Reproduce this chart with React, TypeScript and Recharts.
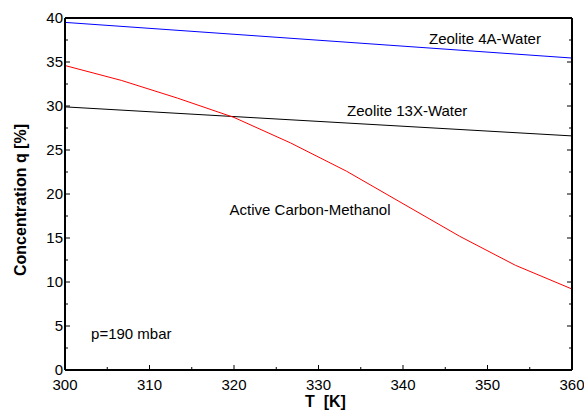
import { LineChart, Line, XAxis, YAxis, ReferenceDot, Label } from 'recharts';

// temperatures [K] and loadings [%]
const redT = [300, 306.7, 313.3, 320, 326.7, 333.3, 340, 346.7, 353.3, 360];
const carbonMethanol = [34.6, 32.9, 30.9, 28.7, 25.8, 22.6, 18.9, 15.2, 11.9, 9.2];
const zeoliteT = [300, 360];
const zeolite4A = [39.5, 35.45];
const zeolite13X = [29.9, 26.6];

const xTicks = [300, 305, 310, 315, 320, 325, 330, 335, 340, 345, 350, 355, 360];
const yTicks = [0, 2.5, 5, 7.5, 10, 12.5, 15, 17.5, 20, 22.5, 25, 27.5, 30, 32.5, 35, 37.5, 40];

const notes = [
  { T: 349.7, q: 37.6, text: 'Zeolite 4A-Water' },
  { T: 340.5, q: 29.5, text: 'Zeolite 13X-Water' },
  { T: 329.0, q: 18.2, text: 'Active Carbon-Methanol' },
  { T: 307.85, q: 4.1, text: 'p=190 mbar' },
];

const toRows = (xs: number[], ys: number[]) => xs.map((T, i) => ({ T, q: ys[i] }));

const FONT = '"Liberation Sans", Arial, sans-serif';
const MAJOR = 5;
const MINOR = 3;

function BottomTick(props: any) {
  const { x, y, payload } = props;
  const major = payload.value % 10 === 0;
  return (
    <g>
      <line x1={x} x2={x} y1={y} y2={y - (major ? MAJOR : MINOR)} stroke="#000" />
      {major && (
        <text x={x} y={y + 20} textAnchor="middle" fontSize={15} fill="#000" fontFamily={FONT}>
          {payload.value}
        </text>
      )}
    </g>
  );
}

function TopTick(props: any) {
  const { x, y, payload } = props;
  const major = payload.value % 10 === 0;
  return <line x1={x} x2={x} y1={y} y2={y + (major ? MAJOR : MINOR)} stroke="#000" />;
}

function LeftTick(props: any) {
  const { x, y, payload } = props;
  const major = payload.value % 5 === 0;
  return (
    <g>
      <line x1={x} x2={x + (major ? MAJOR : MINOR)} y1={y} y2={y} stroke="#000" />
      {major && (
        <text x={x - 2} y={y} dy="0.35em" textAnchor="end" fontSize={15} fill="#000" fontFamily={FONT}>
          {payload.value}
        </text>
      )}
    </g>
  );
}

function RightTick(props: any) {
  const { x, y, payload } = props;
  const major = payload.value % 5 === 0;
  return <line x1={x} x2={x - (major ? MAJOR : MINOR)} y1={y} y2={y} stroke="#000" />;
}

export default function App() {
  return (
    <div style={{ position: 'absolute', left: 0, top: 0, background: '#fff' }}>
      <LineChart width={584} height={414} margin={{ top: 0, right: 0, bottom: 0, left: 0 }} style={{ fontFamily: FONT }}>
        <XAxis
          dataKey="T"
          type="number"
          domain={[300, 360]}
          ticks={xTicks}
          interval={0}
          height={44}
          tickSize={0}
          tickMargin={0}
          tick={<BottomTick />}
          axisLine={{ stroke: '#000', strokeWidth: 2 }}
          allowDataOverflow
        >
          <Label
            content={(p: any) => {
              const vb = p.viewBox;
              return (
                <text
                  x={vb.x + 240}
                  y={vb.y + 37}
                  fontSize={16}
                  fontWeight="bold"
                  fill="#000"
                  fontFamily={FONT}
                  style={{ whiteSpace: 'pre' }}
                >
                  {'T  [K]'}
                </text>
              );
            }}
          />
        </XAxis>
        <XAxis
          xAxisId="top"
          orientation="top"
          type="number"
          domain={[300, 360]}
          ticks={xTicks}
          interval={0}
          height={18}
          tickSize={0}
          tickMargin={0}
          tick={<TopTick />}
          axisLine={{ stroke: '#000', strokeWidth: 2 }}
          allowDataOverflow
        />
        <YAxis
          type="number"
          domain={[0, 40]}
          ticks={yTicks}
          interval={0}
          width={65}
          tickSize={0}
          tickMargin={0}
          tick={<LeftTick />}
          axisLine={{ stroke: '#000', strokeWidth: 2 }}
          allowDataOverflow
        >
          <Label
            content={(p: any) => {
              const vb = p.viewBox;
              const cx = vb.x + 20;
              const cy = vb.y + vb.height / 2 + 6;
              return (
                <text
                  x={cx}
                  y={cy}
                  transform={`rotate(-90 ${cx} ${cy})`}
                  textAnchor="middle"
                  dominantBaseline="central"
                  fontSize={16}
                  fontWeight="bold"
                  fill="#000"
                  fontFamily={FONT}
                >
                  Concentration q [%]
                </text>
              );
            }}
          />
        </YAxis>
        <YAxis
          yAxisId="right"
          orientation="right"
          type="number"
          domain={[0, 40]}
          ticks={yTicks}
          interval={0}
          width={12}
          tickSize={0}
          tickMargin={0}
          tick={<RightTick />}
          axisLine={{ stroke: '#000', strokeWidth: 2 }}
          allowDataOverflow
        />
        <Line data={toRows(zeoliteT, zeolite4A)} dataKey="q" stroke="#0000ff" strokeWidth={1} dot={false} isAnimationActive={false} />
        <Line data={toRows(zeoliteT, zeolite13X)} dataKey="q" stroke="#000000" strokeWidth={1} dot={false} isAnimationActive={false} />
        <Line data={toRows(redT, carbonMethanol)} dataKey="q" stroke="#ff0000" strokeWidth={1} dot={false} isAnimationActive={false} />
        {notes.map((n) => (
          <ReferenceDot
            key={n.text}
            x={n.T}
            y={n.q}
            r={0}
            fill="none"
            stroke="none"
            label={{ value: n.text, position: 'center', fontSize: 15, fill: '#000', fontFamily: FONT }}
          />
        ))}
      </LineChart>
    </div>
  );
}
